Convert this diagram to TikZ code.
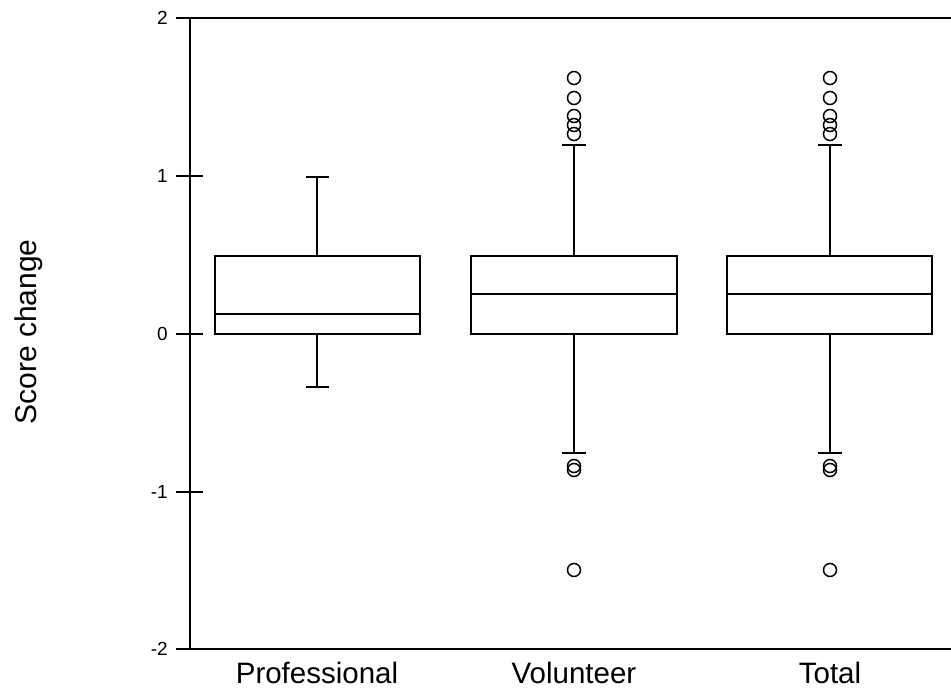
\documentclass[tikz,border=0pt]{standalone}
\usepackage{fontspec}
\setmainfont{Liberation Sans}
\begin{document}
\begin{tikzpicture}[x=1pt,y=-1pt,
  axisline/.style={line width=2pt},
  boxline/.style={line width=2pt},
  outl/.style={line width=1.5pt},
  ticklab/.style={anchor=east,inner sep=0pt,font=\fontsize{19}{19}\selectfont},
  catlab/.style={anchor=base,inner sep=0pt,font=\fontsize{29.5}{29.5}\selectfont}]
\useasboundingbox (0,0) rectangle (951,695);
% axes
\draw[axisline] (176,18) -- (951,18);
\draw[axisline] (176,649) -- (951,649);
\draw[axisline] (189.5,18) -- (189.5,649);
\foreach \yy in {176,333.5,492} \draw[axisline] (176,\yy) -- (203,\yy);
\node[ticklab] (t2) at (168,18) {2};
\node[ticklab] (t1) at (168,176) {1};
\node[ticklab] (t0) at (168,333.5) {0};
\node[ticklab] (tm1) at (168,492) {-1};
\node[ticklab] (tm2) at (168,649) {-2};
\node[rotate=90,anchor=base,inner sep=0pt,font=\fontsize{30}{30}\selectfont] (ylab) at (36,332) {Score change};
% categories
\node[catlab] (cp) at (317,683) {Professional};
\node[catlab] (cv) at (574,683) {Volunteer};
\node[catlab] (ct) at (830,683) {Total};
% Professional
\draw[boxline] (215,256) rectangle (420,334);
\draw[boxline] (215,314) -- (420,314);
\draw[boxline] (317,256) -- (317,177) (306,177) -- (329,177);
\draw[boxline] (317,334) -- (317,387) (306,387) -- (329,387);
% Volunteer and Total
\foreach \xl/\xr/\xm in {471/677/574, 727/932/830} {
  \draw[boxline] (\xl,256) rectangle (\xr,334);
  \draw[boxline] (\xl,294) -- (\xr,294);
  \draw[boxline] (\xm,256) -- (\xm,145) (\xm-12,145) -- (\xm+12,145);
  \draw[boxline] (\xm,334) -- (\xm,453) (\xm-12,453) -- (\xm+12,453);
  \foreach \oy in {78,98,116,125,134,466,470,570}
    \draw[outl] (\xm,\oy) circle (6.5);
}
\end{tikzpicture}
\end{document}
